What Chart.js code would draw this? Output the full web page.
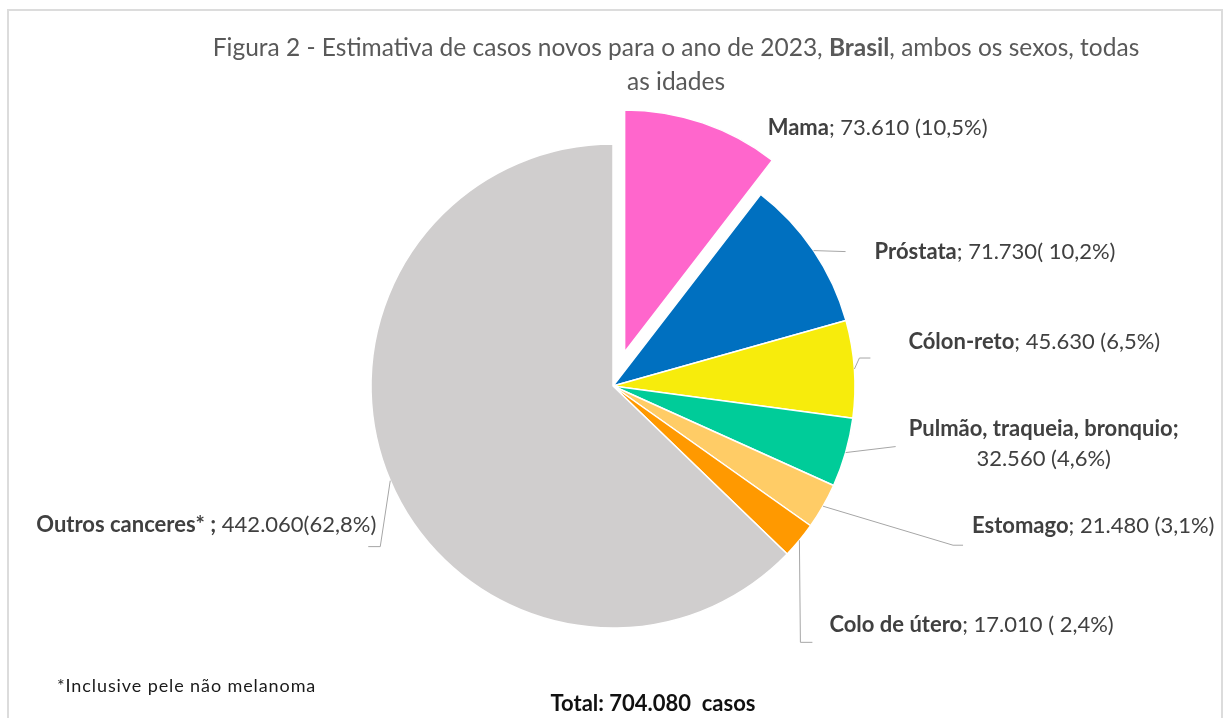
<!DOCTYPE html>
<html lang="pt-BR">
<head>
<meta charset="utf-8">
<title>Figura 2 - Estimativa de casos novos 2023</title>
<script src="https://cdn.jsdelivr.net/npm/chart.js@4.4.0/dist/chart.umd.min.js"></script>
<style>
    html, body { margin: 0; padding: 0; background: #fff; }
    #area { position: relative; width: 1224px; height: 718px; overflow: hidden; }
    #moldura { position: absolute; left: 7px; top: 9px; width: 1212px; height: 730px;
               border: 2px solid #dcdcdc; border-bottom: none; }
    #grafico { position: absolute; left: 0; top: 0; }
</style>
</head>
<body>
<div id="area">
    <div id="moldura"></div>
    <canvas id="grafico" width="1224" height="718"></canvas>
</div>
<script>
// Dados da figura (INCA, estimativa 2023)
const categorias = ['Mama', 'Próstata', 'Cólon-reto', 'Pulmão, traqueia, bronquio', 'Estomago', 'Colo de útero', 'Outros canceres*'];
const casos = [73610, 71730, 45630, 32560, 21480, 17010, 442060];
const rotulos = ['73.610 (10,5%)', '71.730( 10,2%)', '45.630 (6,5%)', '32.560 (4,6%)', '21.480 (3,1%)', '17.010 ( 2,4%)', '442.060(62,8%)'];
const cores = ['#FF66CC', '#0070C0', '#F7EC0C', '#00CC99', '#FFCC66', '#FF9900', '#D0CECE'];
const afastamento = [36, 0, 0, 0, 0, 0, 0];

const nota = '*Inclusive pele não melanoma';

// Posição dos rótulos, relativa ao ponto do meio de cada fatia na borda
const posicoes = [
    { texto: [65, 5], alinhar: 'left', linha: [] },
    { texto: [61, 1], alinhar: 'left', linha: [[32, 1]] },
    { texto: [54, -27], alinhar: 'left', linha: [[5, -11], [16, -11]] },
    { texto: [198, -24], alinhar: 'center', linha: [[50, -6]], quebra: true },
    { texto: [149, 20], alinhar: 'left', linha: [[130, 39], [140, 39]] },
    { texto: [30, 85], alinhar: 'left', linha: [[1, 102], [13, 102]] },
    { texto: [-14, 44], alinhar: 'right', linha: [[-10, 66], [-22, 66]], sepNegrito: true }
];

const FONTE = 'Lato, "Open Sans", sans-serif';

function milhar(n) {
    return String(n).replace(/\B(?=(\d{3})+(?!\d))/g, '.');
}

// Escreve um texto com trechos em negrito
function escreve(ctx, partes, x, y, alinhar, tamanho, cor, espaco) {
    const fonte = b => (b ? 'bold ' : '') + tamanho + 'px ' + FONTE;
    ctx.letterSpacing = (espaco || 0) + 'px';
    let largura = 0;
    partes.forEach(([t, b]) => { ctx.font = fonte(b); largura += ctx.measureText(t).width; });
    let x0 = alinhar === 'left' ? x : (alinhar === 'right' ? x - largura : x - largura / 2);
    ctx.textAlign = 'left';
    ctx.textBaseline = 'middle';
    ctx.fillStyle = cor;
    partes.forEach(([t, b]) => {
        ctx.font = fonte(b);
        ctx.fillText(t, x0, y);
        x0 += ctx.measureText(t).width;
    });
    ctx.letterSpacing = '0px';
}

// Afasta a fatia destacada do centro
const explodir = {
    id: 'explodir',
    beforeDatasetsDraw(chart) {
        const area = chart.chartArea;
        const cx = (area.left + area.right) / 2;
        const cy = (area.top + area.bottom) / 2;
        chart.getDatasetMeta(0).data.forEach((arco, i) => {
            const meio = (arco.startAngle + arco.endAngle) / 2;
            arco.x = cx + Math.cos(meio) * afastamento[i];
            arco.y = cy + Math.sin(meio) * afastamento[i];
        });
    }
};

// Rótulos, linhas de chamada, título e notas
const textos = {
    id: 'textos',
    afterDatasetsDraw(chart) {
        const ctx = chart.ctx;
        ctx.save();
        chart.getDatasetMeta(0).data.forEach((arco, i) => {
            const meio = (arco.startAngle + arco.endAngle) / 2;
            const ax = arco.x + Math.cos(meio) * arco.outerRadius;
            const ay = arco.y + Math.sin(meio) * arco.outerRadius;
            const p = posicoes[i];

            if (p.linha.length) {
                ctx.beginPath();
                ctx.moveTo(ax, ay);
                p.linha.forEach(([dx, dy]) => ctx.lineTo(ax + dx, ay + dy));
                ctx.strokeStyle = '#a6a6a6';
                ctx.lineWidth = 1;
                ctx.stroke();
            }

            const tx = ax + p.texto[0];
            const ty = ay + p.texto[1];
            if (p.quebra) {
                escreve(ctx, [[categorias[i] + ';', true]], tx, ty, p.alinhar, 22, '#404040');
                escreve(ctx, [[rotulos[i], false]], tx, ty + 30, p.alinhar, 22, '#404040');
            } else if (p.sepNegrito) {
                escreve(ctx, [[categorias[i] + ' ;', true], [' ' + rotulos[i], false]], tx, ty, p.alinhar, 22, '#404040');
            } else {
                escreve(ctx, [[categorias[i], true], ['; ' + rotulos[i], false]], tx, ty, p.alinhar, 22, '#404040');
            }
        });

        // Título
        escreve(ctx, [
            ['Figura 2 - Estimativa de casos novos para o ano de 2023, ', false],
            ['Brasil', true],
            [', ambos os sexos, todas', false]
        ], 676, 48, 'center', 24.5, '#595959');
        escreve(ctx, [['as idades', false]], 676, 82, 'center', 24.5, '#595959');

        // Nota e total
        escreve(ctx, [[nota, false]], 57, 686, 'left', 18, '#1a1a1a', 0.9);
        const soma = casos.reduce((a, b) => a + b, 0);
        escreve(ctx, [['Total: ' + milhar(soma) + '  casos', true]], 653, 704, 'center', 22, '#111111');
        ctx.restore();
    }
};

new Chart(document.getElementById('grafico'), {
    type: 'pie',
    data: {
        labels: categorias,
        datasets: [{
            data: casos,
            backgroundColor: cores,
            borderColor: '#ffffff',
            borderWidth: 1.5
        }]
    },
    options: {
        responsive: false,
        animation: false,
        events: [],
        layout: {
            padding: { top: 143.25, bottom: 89.25, left: 200, right: 198 }
        },
        plugins: {
            legend: { display: false },
            tooltip: { enabled: false },
            title: { display: false }
        }
    },
    plugins: [explodir, textos]
});
</script>
</body>
</html>
